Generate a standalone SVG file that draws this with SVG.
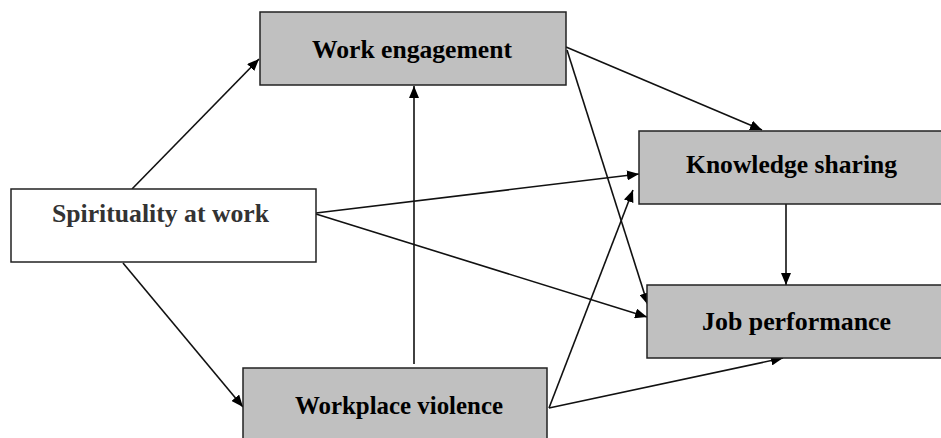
<svg xmlns="http://www.w3.org/2000/svg" width="941" height="438" viewBox="0 0 941 438">
<defs>
<marker id="ah" viewBox="0 0 12 10" refX="12" refY="5" markerWidth="12" markerHeight="10" markerUnits="userSpaceOnUse" orient="auto">
<path d="M0,0 L12,5 L0,10 Z" fill="#000"/>
</marker>
</defs>
<style>
.box{fill:#c0c0c0;stroke:#222;stroke-width:1.5}
.wbox{fill:#fff;stroke:#222;stroke-width:1.5}
.lbl{font-family:"Liberation Serif","Times New Roman",serif;font-weight:bold;font-size:26px;fill:#000}
.edge{stroke:#111;stroke-width:1.6;fill:none;marker-end:url(#ah)}
</style>
<rect width="941" height="438" fill="#fff"/>
<g id="connectors">
<line class="edge" x1="132" y1="189" x2="259" y2="59"/>
<line class="edge" x1="123" y1="263" x2="243" y2="407"/>
<line class="edge" x1="414" y1="364" x2="414" y2="86"/>
<line class="edge" x1="316" y1="213" x2="639" y2="174"/>
<line class="edge" x1="316" y1="214" x2="647" y2="317"/>
<line class="edge" x1="566" y1="47" x2="762" y2="130"/>
<line class="edge" x1="567" y1="50" x2="648" y2="305"/>
<line class="edge" x1="549" y1="408" x2="633" y2="190"/>
<line class="edge" x1="549" y1="408" x2="783" y2="358"/>
<line class="edge" x1="786" y1="204" x2="786" y2="285"/>
</g>
<g id="work-engagement">
<rect class="box" x="260" y="12" width="306" height="73"/>
<text class="lbl" x="312" y="58" textLength="200" lengthAdjust="spacingAndGlyphs">Work engagement</text>
</g>
<g id="spirituality">
<rect class="wbox" x="11" y="189" width="305" height="73"/>
<text class="lbl" x="52" y="222" textLength="217" lengthAdjust="spacingAndGlyphs" style="fill:#333">Spirituality at work</text>
</g>
<g id="knowledge-sharing">
<rect class="box" x="639" y="131" width="310" height="73"/>
<text class="lbl" x="686" y="173" textLength="211" lengthAdjust="spacingAndGlyphs">Knowledge sharing</text>
</g>
<g id="job-performance">
<rect class="box" x="647" y="285" width="302" height="73"/>
<text class="lbl" x="702" y="330" textLength="189" lengthAdjust="spacingAndGlyphs">Job performance</text>
</g>
<g id="workplace-violence">
<rect class="box" x="243" y="368" width="304" height="80"/>
<text class="lbl" x="295" y="414" textLength="208" lengthAdjust="spacingAndGlyphs">Workplace violence</text>
</g>
</svg>
